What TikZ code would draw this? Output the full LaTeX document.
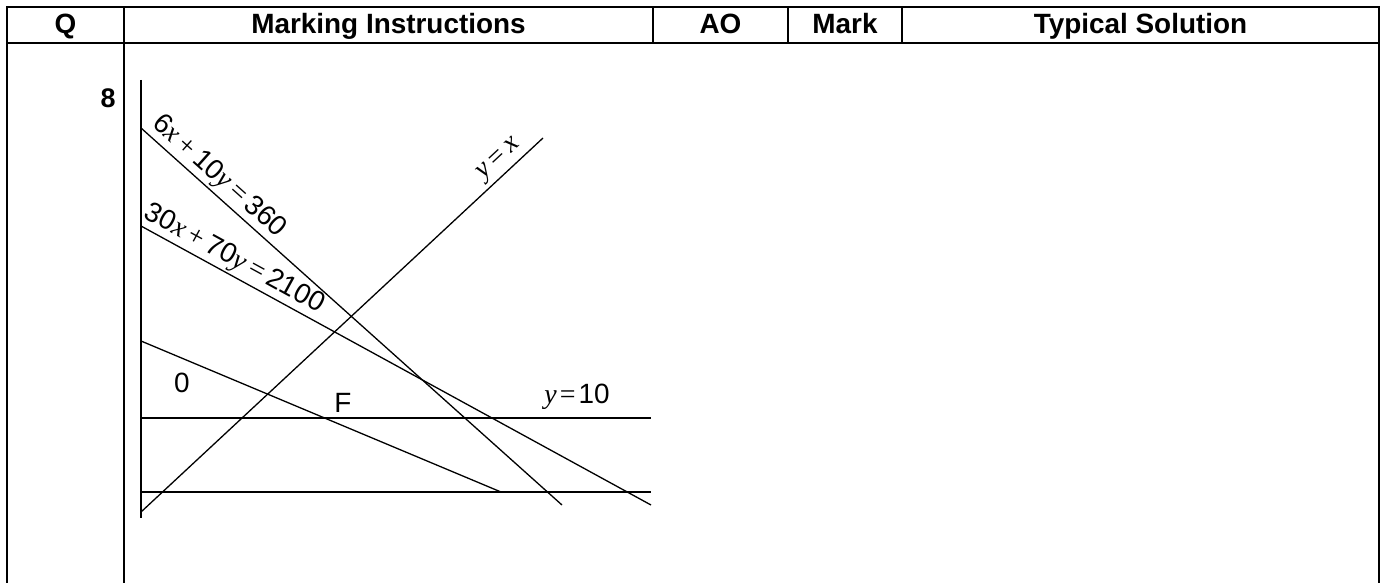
\documentclass[tikz,border=0pt]{standalone}
\usepackage{fontspec}
\setmainfont{Liberation Sans}
\newfontfamily\tnr{Liberation Serif}
\newcommand\vx{{\tnr\itshape x}}
\newcommand\vy{{\tnr\itshape y}}
\newcommand\eqs{{\tnr =}}
\newcommand\pls{{\tnr +}}
\newcommand\gs{\hspace{5bp}}
\begin{document}
\begin{tikzpicture}[x=1bp,y=-1bp,
  tab/.style={line width=2bp},
  gl/.style={line width=1.3bp},
  hd/.style={font=\fontsize{28}{30}\selectfont\bfseries, inner sep=0pt, anchor=base},
  lbl/.style={font=\fontsize{28}{31}\selectfont, inner sep=0pt}]
\useasboundingbox (0,0) rectangle (1387,583);
% table frame
\draw[tab] (7,583) -- (7,7) -- (1379,7) -- (1379,583);
\draw[tab] (7,43) -- (1379,43);
\draw[tab] (124,7) -- (124,583);
\draw[tab] (653,7) -- (653,43);
\draw[tab] (788,7) -- (788,43);
\draw[tab] (902,7) -- (902,43);
% headers
\node[hd] (hq) at (65.5,34) {Q};
\node[hd] (hmi) at (388.5,34) {Marking Instructions};
\node[hd] (hao) at (720.5,34) {AO};
\node[hd] (hmk) at (845,34) {Mark};
\node[hd] (hts) at (1140.5,34) {Typical Solution};
\node[hd, font=\fontsize{27}{29}\selectfont\bfseries] (qn) at (108,108) {8};
% graph
\coordinate (axT) at (141,80);
\coordinate (axB) at (141,518);
\coordinate (b0) at (141,492);
\coordinate (b1) at (651,492);
\coordinate (t0) at (141,418);
\coordinate (t1) at (651,418);
\coordinate (d0) at (141,512);
\coordinate (d1) at (543,138);
\coordinate (a0) at (141,128);
\coordinate (a1) at (562,505);
\coordinate (c0) at (141,226);
\coordinate (c1) at (651,505);
\coordinate (e0) at (141,341);
\coordinate (e1) at (501,492);
\draw[gl] (axT) -- (axB);
\draw[gl] (b0) -- (b1);
\draw[gl] (t0) -- (t1);
\draw[gl] (d0) -- node[pos=0.915, sloped, above=3bp, lbl] (lyx) {\vy\gs\eqs\gs\vx} (d1);
\draw[gl] (a0) -- node[pos=0.16, sloped, above=2bp, lbl] (l1) {6\vx\gs\pls\gs10\vy\gs\eqs\gs360} (a1);
\draw[gl] (c0) -- node[pos=0.168, sloped, above=2bp, lbl] (l2) {30\vx\gs\pls\gs70\vy\gs\eqs\gs2100} (c1);
\draw[gl] (e0) -- (e1);
\node[lbl] (zero) at (182,383) {0};
\node[lbl] (fl) at (343,403) {F};
\node[lbl] (y10) at (577,397) {\vy\hspace{3bp}\eqs\hspace{3bp}10};
\end{tikzpicture}
\end{document}
